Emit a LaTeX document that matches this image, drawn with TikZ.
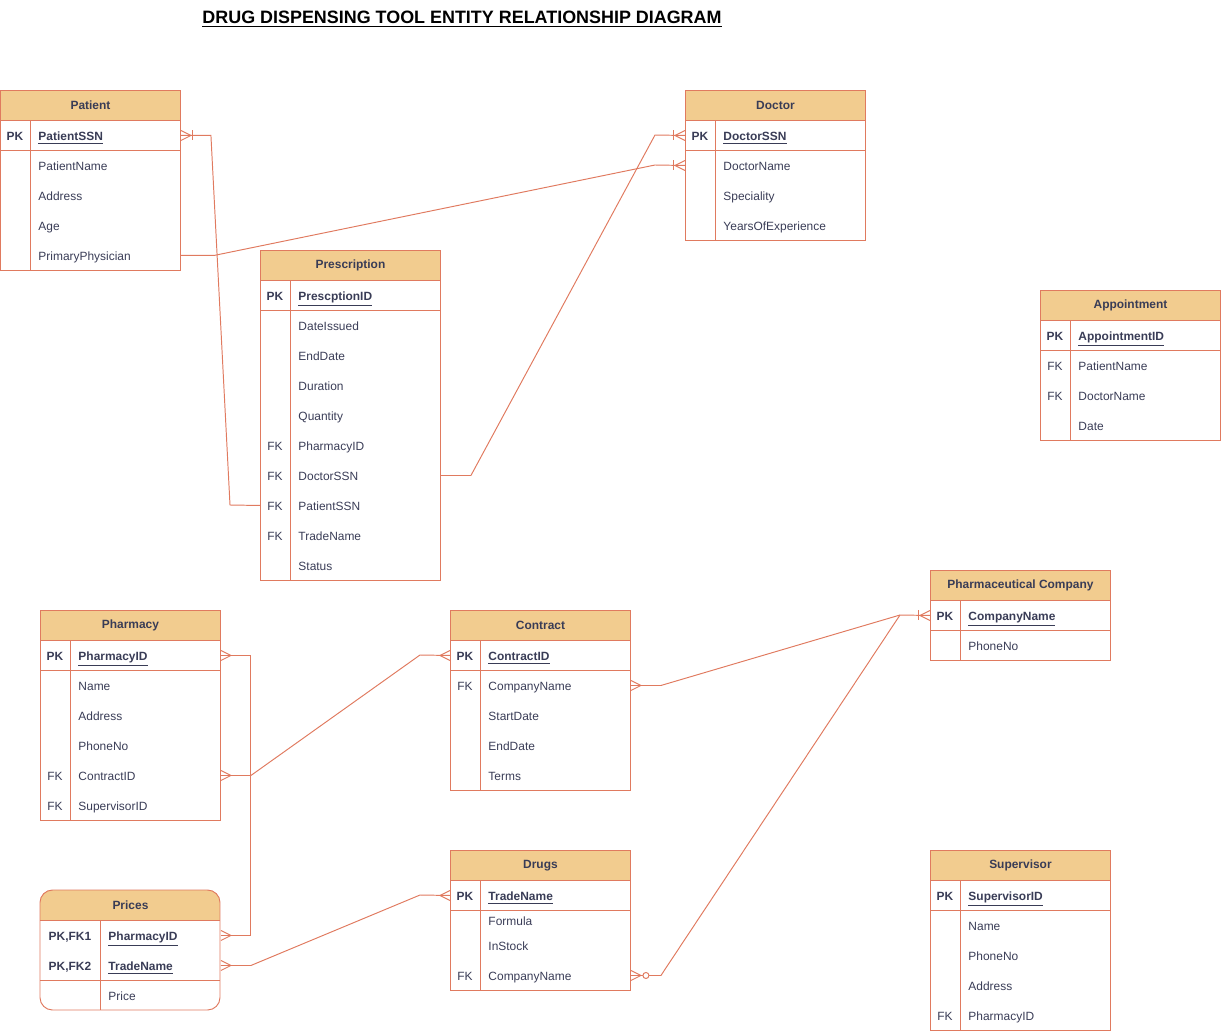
\documentclass[tikz,border=0pt]{standalone}
\usepackage{fontspec}
\setmainfont{Liberation Sans}
\usetikzlibrary{positioning}

\definecolor{erline}{HTML}{E07A5F}
\definecolor{erfill}{HTML}{F2CC8F}
\definecolor{ertext}{HTML}{393C56}

% one row of a table: [key column width] name, x, top, key, field
\newcommand{\errow}[6][30]{%
  \node[rowbox, anchor=north west] (#2) at (#3,#4) {};
  \node[keytxt] (#2-k) at ([xshift=#1*0.01cm]#2.west) {#5};
  \node[fieldtxt] (#2-f) at ([xshift=(#1+8)*0.02cm]#2.west) {#6};
}
% outline of a table: x, top, bottom
\newcommand{\erframe}[3]{%
  \draw[erline] (#1,#2) rectangle (#1+180,#3);
  \draw[erline] (#1+30,#2+30) -- (#1+30,#3);
  \draw[erline] (#1,#2+60) -- (#1+180,#2+60);
}
% end marks: anchor, side (1 = right, -1 = left)
\newcommand{\ermany}[2]{\draw[erline] ([yshift=0.1cm]#1) -- ([xshift=#2*0.2cm]#1) -- ([yshift=-0.1cm]#1);}
\newcommand{\erone}[2]{\draw[erline] ([xshift=#2*0.24cm, yshift=0.1cm]#1) -- ([xshift=#2*0.24cm, yshift=-0.1cm]#1);}
\newcommand{\erzero}[2]{\draw[erline, fill=white] ([xshift=#2*0.3cm]#1) circle (0.06cm);}

\begin{document}
\begin{tikzpicture}[x=0.02cm, y=-0.02cm, line width=0.55pt,
  every node/.style={text=ertext, font=\fontsize{6.8}{8}\selectfont},
  head/.style={draw=erline, fill=erfill, minimum width=3.6cm, minimum height=0.6cm,
    inner sep=0pt, anchor=north west, font=\bfseries\fontsize{6.8}{8}\selectfont},
  rowbox/.style={minimum width=3.6cm, minimum height=0.6cm, inner sep=0pt},
  keytxt/.style={inner sep=0pt, text height=1.6ex, text depth=0.45ex},
  fieldtxt/.style={anchor=west, inner sep=0pt, text height=1.6ex, text depth=0.45ex},
  conn/.style={draw=erline}]

  \useasboundingbox (0,0) rectangle (1221,1031);

  % Title
  \node[font=\bfseries\fontsize{10.2}{12}\selectfont, text=black] (title) at (462,19)
    {\underline{DRUG DISPENSING TOOL ENTITY RELATIONSHIP DIAGRAM}};

  % Patient
  \erframe{0}{90}{270}
  \node[head] (patient) at (0,90) {Patient};
  \errow{patssn}{0}{120}{\bfseries PK}{\bfseries\underline{PatientSSN}}
  \foreach \n/\f [count=\i] in {patname/PatientName, patadr/Address, patage/Age, patphy/PrimaryPhysician} {
    \pgfmathsetmacro\yy{120+30*\i}
    \errow{\n}{0}{\yy}{}{\f}
  }

  % Doctor
  \erframe{685}{90}{240}
  \node[head] (doctor) at (685,90) {Doctor};
  \errow{docssn}{685}{120}{\bfseries PK}{\bfseries\underline{DoctorSSN}}
  \foreach \n/\f [count=\i] in {docname/DoctorName, docspec/Speciality, docyears/YearsOfExperience} {
    \pgfmathsetmacro\yy{120+30*\i}
    \errow{\n}{685}{\yy}{}{\f}
  }

  % Prescription
  \erframe{260}{250}{580}
  \node[head] (prescription) at (260,250) {Prescription};
  \errow{preid}{260}{280}{\bfseries PK}{\bfseries\underline{PrescptionID}}
  \foreach \k/\n/\f [count=\i] in {/predate/DateIssued, /preend/EndDate, /predur/Duration, /preqty/Quantity,
      FK/prepha/PharmacyID, FK/predoc/DoctorSSN, FK/prepat/PatientSSN, FK/pretn/TradeName, /prestat/Status} {
    \pgfmathsetmacro\yy{280+30*\i}
    \errow{\n}{260}{\yy}{\k}{\f}
  }

  % Appointment
  \erframe{1040}{290}{440}
  \node[head] (appointment) at (1040,290) {Appointment};
  \errow{appid}{1040}{320}{\bfseries PK}{\bfseries\underline{AppointmentID}}
  \foreach \k/\n/\f [count=\i] in {FK/apppat/PatientName, FK/appdoc/DoctorName, /appdate/Date} {
    \pgfmathsetmacro\yy{320+30*\i}
    \errow{\n}{1040}{\yy}{\k}{\f}
  }

  % Pharmacy
  \erframe{40}{610}{820}
  \node[head] (pharmacy) at (40,610) {Pharmacy};
  \errow{phaid}{40}{640}{\bfseries PK}{\bfseries\underline{PharmacyID}}
  \foreach \k/\n/\f [count=\i] in {/phaname/Name, /phaadr/Address, /phaphone/PhoneNo,
      FK/phacon/ContractID, FK/phasup/SupervisorID} {
    \pgfmathsetmacro\yy{640+30*\i}
    \errow{\n}{40}{\yy}{\k}{\f}
  }

  % Contract
  \erframe{450}{610}{790}
  \node[head] (contract) at (450,610) {Contract};
  \errow{conid}{450}{640}{\bfseries PK}{\bfseries\underline{ContractID}}
  \foreach \k/\n/\f [count=\i] in {FK/concomp/CompanyName, /constart/StartDate, /conend/EndDate, /conterms/Terms} {
    \pgfmathsetmacro\yy{640+30*\i}
    \errow{\n}{450}{\yy}{\k}{\f}
  }

  % Pharmaceutical Company
  \erframe{930}{570}{660}
  \node[head] (company) at (930,570) {Pharmaceutical Company};
  \errow{pcname}{930}{600}{\bfseries PK}{\bfseries\underline{CompanyName}}
  \errow{pcphone}{930}{630}{}{PhoneNo}

  % Drugs
  \erframe{450}{850}{990}
  \node[head] (drugs) at (450,850) {Drugs};
  \errow{drutn}{450}{880}{\bfseries PK}{\bfseries\underline{TradeName}}
  \errow{drufor}{450}{905}{}{Formula}
  \errow{druins}{450}{930}{}{InStock}
  \errow{drucomp}{450}{960}{FK}{CompanyName}

  % Supervisor
  \erframe{930}{850}{1030}
  \node[head] (supervisor) at (930,850) {Supervisor};
  \errow{supid}{930}{880}{\bfseries PK}{\bfseries\underline{SupervisorID}}
  \foreach \k/\n/\f [count=\i] in {/supname/Name, /supphone/PhoneNo, /supadr/Address, FK/suppha/PharmacyID} {
    \pgfmathsetmacro\yy{880+30*\i}
    \errow{\n}{930}{\yy}{\k}{\f}
  }

  % Prices
  \begin{scope}
    \clip[rounded corners=0.25cm] (40,890) rectangle (220,1010);
    \fill[erfill] (40,890) rectangle (220,920);
  \end{scope}
  \draw[erline, rounded corners=0.25cm] (40,890) rectangle (220,1010);
  \draw[erline] (40,920) -- (220,920) (40,980) -- (220,980) (100,920) -- (100,1010);
  \node[head, draw=none, fill=none] (prices) at (40,890) {Prices};
  \errow[60]{priid}{40}{920}{\bfseries PK,FK1}{\bfseries\underline{PharmacyID}}
  \errow[60]{pritn}{40}{950}{\bfseries PK,FK2}{\bfseries\underline{TradeName}}
  \errow[60]{priprice}{40}{980}{}{Price}

  % Relationships
  \draw[conn] (patssn.east) -- ++(30,0) -- (230,505) -- (prepat.west);
  \draw[conn] (patphy.east) -- ++(33,0) -- (655,165) -- (docname.west);
  \draw[conn] (predoc.east) -- ++(30,0) -- (655,135) -- (docssn.west);
  \draw[conn] (phaid.east) -- ++(30,0) |- (priid.east);
  \draw[conn] (phacon.east) -- ++(30,0) -- (420,655) -- (conid.west);
  \draw[conn] (pritn.east) -- ++(30,0) -- (420,895) -- (drutn.west);
  \draw[conn] (concomp.east) -- ++(30,0) -- (900,615) -- (pcname.west);
  \draw[conn] (drucomp.east) -- ++(30,0) -- (900,615);

  % End marks
  \ermany{patssn.east}{1} \erone{patssn.east}{1}
  \ermany{docname.west}{-1} \erone{docname.west}{-1}
  \ermany{docssn.west}{-1} \erone{docssn.west}{-1}
  \ermany{phaid.east}{1}
  \ermany{priid.east}{1}
  \ermany{phacon.east}{1}
  \ermany{conid.west}{-1}
  \ermany{pritn.east}{1}
  \ermany{drutn.west}{-1}
  \ermany{concomp.east}{1}
  \ermany{pcname.west}{-1} \erone{pcname.west}{-1}
  \ermany{drucomp.east}{1} \erzero{drucomp.east}{1}

\end{tikzpicture}
\end{document}
